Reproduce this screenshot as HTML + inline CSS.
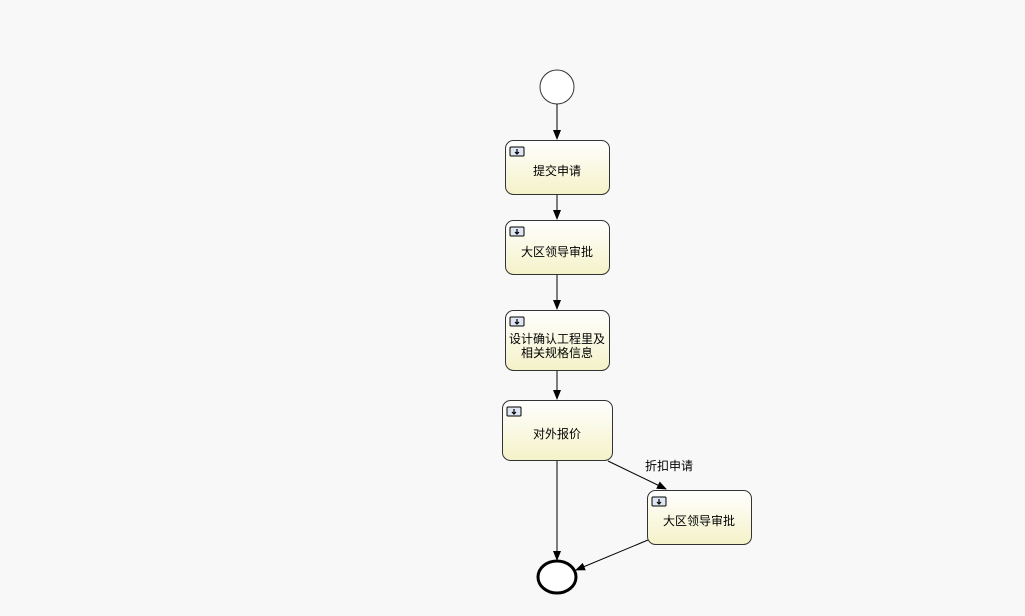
<!DOCTYPE html>
<html><head><meta charset="utf-8"><style>
html,body{margin:0;padding:0;background:#f8f8f8;}
svg{display:block;}
text{font-family:"Liberation Sans","Noto Sans CJK SC",sans-serif;font-size:12px;fill:#000;}
</style></head><body>
<svg width="1025" height="616" xmlns="http://www.w3.org/2000/svg">
<defs>
<linearGradient id="g" x1="0" y1="0" x2="0" y2="1"><stop offset="0" stop-color="#ffffff"/><stop offset="1" stop-color="#f4f2c8"/></linearGradient>
<marker id="a" markerWidth="10" markerHeight="10" refX="9" refY="5" orient="auto" markerUnits="userSpaceOnUse"><path d="M0,1 L10,5 L0,9 Z" fill="#000"/></marker>
<g id="ic"><rect x="0" y="0" width="14" height="9" rx="1" fill="#dde6f2" stroke="#000" stroke-width="1"/><path d="M7,2 L7,7 M5,5 L7,7 L9,5" stroke="#000" stroke-width="1.2" fill="none"/></g>
</defs>
<circle cx="557" cy="87" r="17" fill="#fff" stroke="#333" stroke-width="1"/>
<line x1="557" y1="104" x2="557" y2="139" stroke="#000" marker-end="url(#a)"/>
<rect x="505.5" y="140.5" width="104" height="54" rx="8" fill="url(#g)" stroke="#333"/>
<use href="#ic" x="510" y="147"/>
<text x="557" y="175" text-anchor="middle">提交申请</text>
<line x1="557" y1="195" x2="557" y2="219" stroke="#000" marker-end="url(#a)"/>
<rect x="505.5" y="220.5" width="104" height="54" rx="8" fill="url(#g)" stroke="#333"/>
<use href="#ic" x="510" y="227"/>
<text x="557" y="256" text-anchor="middle">大区领导审批</text>
<line x1="557" y1="275" x2="557" y2="309" stroke="#000" marker-end="url(#a)"/>
<rect x="505.5" y="310.5" width="104" height="60" rx="8" fill="url(#g)" stroke="#333"/>
<use href="#ic" x="510" y="317"/>
<text x="557" y="343" text-anchor="middle">设计确认工程里及</text>
<text x="557" y="357" text-anchor="middle">相关规格信息</text>
<line x1="557" y1="371" x2="557" y2="399" stroke="#000" marker-end="url(#a)"/>
<rect x="502.5" y="400.5" width="110" height="60" rx="8" fill="url(#g)" stroke="#333"/>
<use href="#ic" x="507" y="407"/>
<text x="557" y="438" text-anchor="middle">对外报价</text>
<line x1="608" y1="461" x2="666" y2="489" stroke="#000" marker-end="url(#a)"/>
<text x="645" y="470">折扣申请</text>
<rect x="647.5" y="490.5" width="104" height="54" rx="8" fill="url(#g)" stroke="#333"/>
<use href="#ic" x="652" y="497"/>
<text x="699" y="525" text-anchor="middle">大区领导审批</text>
<line x1="557" y1="461" x2="557" y2="560" stroke="#000" marker-end="url(#a)"/>
<line x1="648" y1="540" x2="576" y2="570" stroke="#000" marker-end="url(#a)"/>
<ellipse cx="557" cy="577" rx="19" ry="16" fill="#fff" stroke="#000" stroke-width="3"/>
</svg>
</body></html>
